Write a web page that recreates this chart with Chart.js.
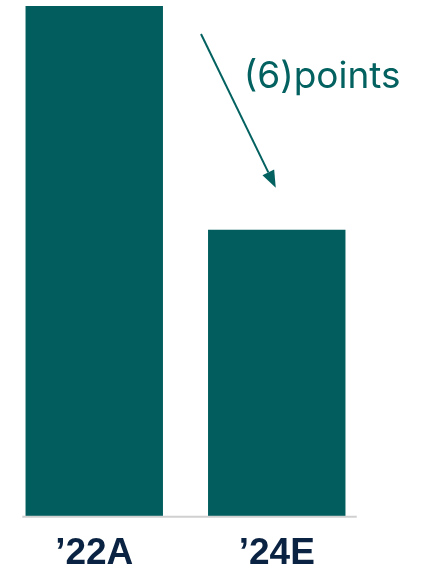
<!DOCTYPE html>
<html>
<head>
<meta charset="utf-8">
<script src="https://cdn.jsdelivr.net/npm/chart.js@4"></script>
<style>
html,body{margin:0;padding:0;background:#fff;}
#wrap{width:424px;height:569px;position:relative;}
</style>
</head>
<body>
<div id="wrap"><canvas id="c" width="424" height="569"></canvas></div>
<script>
const categories = ['\u201922A', '\u201924E'];
const values = [13.7, 7.7];
const annotationText = '(6)points';

const barColor = '#025E5E';
const annoColor = '#036160';

const decor = {
  id: 'decor',
  afterDatasetsDraw(chart) {
    const ctx = chart.ctx;
    const area = chart.chartArea;
    const meta = chart.getDatasetMeta(0);
    const b1 = meta.data[0], b2 = meta.data[1];
    // baseline
    ctx.save();
    ctx.strokeStyle = '#d0d0d0';
    ctx.lineWidth = 2;
    ctx.beginPath();
    ctx.moveTo(b1.x - 72, area.bottom);
    ctx.lineTo(b2.x + 80, area.bottom);
    ctx.stroke();
    // arrow
    const sx = b1.x + (b2.x - b1.x) * 0.585;
    const sy = b1.y + 28;
    const ex = b2.x - 1;
    const ey = b2.y - 42;
    ctx.strokeStyle = annoColor;
    ctx.fillStyle = annoColor;
    ctx.lineWidth = 2;
    const ang = Math.atan2(ey - sy, ex - sx);
    const headLen = 17, headW = 6.5;
    const bx = ex - headLen * Math.cos(ang), by = ey - headLen * Math.sin(ang);
    ctx.beginPath();
    ctx.moveTo(sx, sy);
    ctx.lineTo(bx, by);
    ctx.stroke();
    ctx.beginPath();
    ctx.moveTo(ex, ey);
    ctx.lineTo(bx + headW * Math.sin(ang), by - headW * Math.cos(ang));
    ctx.lineTo(bx - headW * Math.sin(ang), by + headW * Math.cos(ang));
    ctx.closePath();
    ctx.fill();
    // text
    ctx.font = '37px Inter';
    ctx.textBaseline = 'middle';
    ctx.textAlign = 'left';
    ctx.fillText(annotationText, b2.x - 33, b1.y + 71);
    ctx.restore();
  }
};

new Chart(document.getElementById('c'), {
  type: 'bar',
  data: {
    labels: categories,
    datasets: [{
      data: values,
      backgroundColor: barColor,
      borderWidth: 0,
      barPercentage: 1,
      categoryPercentage: 0.753
    }]
  },
  options: {
    responsive: false,
    animation: false,
    layout: { padding: { left: 3, right: 56, top: 6, bottom: -21 } },
    plugins: { legend: { display: false }, tooltip: { enabled: false } },
    scales: {
      y: { display: false, min: 0, max: 13.7 },
      x: {
        grid: { display: false, drawTicks: false },
        border: { display: false },
        ticks: {
          color: '#0B2342',
          padding: 20,
          font: { family: 'Liberation Sans', size: 37, weight: 'bold', lineHeight: 0.9 }
        }
      }
    }
  },
  plugins: [decor]
});
</script>
</body>
</html>
